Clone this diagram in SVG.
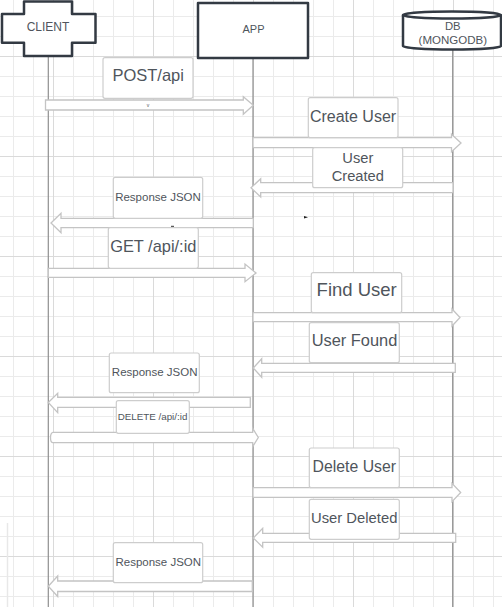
<svg xmlns="http://www.w3.org/2000/svg" width="502" height="607" viewBox="0 0 502 607">
<style>
.minor{stroke:#ebebeb;stroke-width:1}
.major{stroke:#dadada;stroke-width:1}
.life{stroke:#8f8f8f;stroke-width:1.2;fill:none}
.actor{fill:#ffffff;stroke:#333a43;stroke-width:2.5;stroke-linejoin:round}
.lbl{fill:#ffffff;stroke:#cdcdcd;stroke-width:1.2}
.arr{fill:#ffffff;stroke:#c4c4c4;stroke-width:1.3;stroke-linejoin:miter}
text{font-family:"Liberation Sans",Arial,sans-serif;fill:#4f555c;text-anchor:middle}
</style>
<rect x="0" y="0" width="502" height="607" fill="#ffffff"/>
<g id="grid">
<g class="minor">
<path d="M13.5 0V607M33.5 0V607M73.5 0V607M93.5 0V607M113.5 0V607M133.5 0V607M173.5 0V607M193.5 0V607M213.5 0V607M233.5 0V607M273.5 0V607M293.5 0V607M313.5 0V607M333.5 0V607M373.5 0V607M393.5 0V607M413.5 0V607M433.5 0V607M473.5 0V607M493.5 0V607"/>
<path d="M0 16.5H502M0 36.5H502M0 76.5H502M0 96.5H502M0 116.5H502M0 136.5H502M0 176.5H502M0 196.5H502M0 216.5H502M0 236.5H502M0 276.5H502M0 296.5H502M0 316.5H502M0 336.5H502M0 376.5H502M0 396.5H502M0 416.5H502M0 436.5H502M0 476.5H502M0 496.5H502M0 516.5H502M0 536.5H502M0 576.5H502M0 596.5H502"/>
</g>
<g class="major">
<path d="M53.5 0V607M153.5 0V607M253.5 0V607M353.5 0V607M453.5 0V607"/>
<path d="M0 56.5H502M0 156.5H502M0 256.5H502M0 356.5H502M0 456.5H502M0 556.5H502"/>
</g>
<path d="M7.5 523V607" stroke="#e8e8e8" stroke-width="1.5"/>
</g>
<g id="lifelines">
<path class="life" d="M48.3 56V607"/>
<path class="life" d="M253 58V607"/>
<path class="life" d="M452.7 50V607"/>
</g>
<g id="client">
<path class="actor" d="M24 1.5H72V14H95.5V42.7H72V56H24V42.7H2V14H24Z"/>
<text x="48" y="31" font-size="12">CLIENT</text>
</g>
<g id="app">
<rect class="actor" x="198" y="3" width="110" height="55"/>
<text x="253.5" y="33" font-size="11">APP</text>
</g>
<g id="db">
<path class="actor" d="M403 15A49 3.5 0 0 1 501 15V46A49 3.5 0 0 1 403 46Z"/>
<path class="actor" d="M403 15A49 3.5 0 0 0 501 15" fill="none"/>
<text x="452.8" y="30" font-size="11.3">DB</text>
<text x="452.8" y="43.5" font-size="11.5">(MONGODB)</text>
</g>
<g id="connectors">
<polygon class="arr" points="45.5,100 243.3,100 243.3,96.7 253.3,105.3 243.3,114.3 243.3,110 45.5,110"/>
<polygon class="arr" points="253,137.7 451.5,137.7 451.5,134.3 461,143 451.5,151.7 451.5,147.7 253,147.7"/>
<polygon class="arr" points="453,182.6 260.7,182.6 260.7,178.7 251,187.8 260.7,197 260.7,192.6 453,192.6"/>
<polygon class="arr" points="253.3,218.3 61,218.3 61,213.3 51,223 61,232.7 61,227.7 253.3,227.7"/>
<polygon class="arr" points="48.3,268.3 245,268.3 245,264 256,273 245,281.7 245,277.3 48.3,277.3"/>
<polygon class="arr" points="253,312.7 452,312.7 452,309 460,317.5 452,326 452,321.7 253,321.7"/>
<polygon class="arr" points="455.3,363.3 261.7,363.3 261.7,358.7 253.3,368 261.7,377.3 261.7,372.3 455.3,372.3"/>
<polygon class="arr" points="250.3,397.3 57.7,397.3 57.7,393.3 48.3,402.5 57.7,412.7 57.7,407.3 250.3,407.3"/>
<path class="arr" d="M53 432.3H252.7V428.3L258.3 437.5L252.7 446.7V442.7H53A2.5 5.2 0 0 1 53 432.3Z"/>
<polygon class="arr" points="253,487.7 452,487.7 452,483.3 460.7,492.5 452,501.7 452,497.3 253,497.3"/>
<polygon class="arr" points="455.7,533.3 262.7,533.3 262.7,528.3 253.3,538 262.7,547.3 262.7,542.3 455.7,542.3"/>
<polygon class="arr" points="252.3,581 57.7,581 57.7,576 48.3,586.3 57.7,596.5 57.7,591.5 252.3,591.5"/>
<text x="148" y="106.5" font-size="5">v</text>
<path d="M304 216L308 217.3L304 218.6Z" fill="#222"/>
<path d="M171 226.3H174" stroke="#333" stroke-width="1"/>
</g>
<g id="lbl-post">
<rect class="lbl" x="103" y="57.7" width="90" height="40.6" rx="2"/>
<text x="148.2" y="81" font-size="16.5">POST/api</text>
</g>
<g id="lbl-create">
<rect class="lbl" x="308.3" y="97.7" width="89.7" height="40" rx="2"/>
<text x="353" y="122" font-size="16">Create User</text>
</g>
<g id="lbl-created">
<rect class="lbl" x="312.7" y="147.7" width="90" height="40" rx="2"/>
<text x="357.8" y="163.3" font-size="14.7">User</text>
<text x="357.8" y="181" font-size="14.7">Created</text>
</g>
<g id="lbl-resp1">
<rect class="lbl" x="113.3" y="177.3" width="89.4" height="41" rx="2"/>
<text x="158" y="200.7" font-size="11.5">Response JSON</text>
</g>
<g id="lbl-get">
<rect class="lbl" x="108.3" y="227.7" width="90" height="40.6" rx="2"/>
<text x="153.3" y="251.7" font-size="16.4">GET /api/:id</text>
</g>
<g id="lbl-find">
<rect class="lbl" x="311.3" y="272.7" width="90.4" height="40" rx="2"/>
<text x="356.7" y="296" font-size="18.5">Find User</text>
</g>
<g id="lbl-found">
<rect class="lbl" x="309.3" y="322.7" width="90" height="40" rx="2"/>
<text x="354.5" y="345.7" font-size="16.4">User Found</text>
</g>
<g id="lbl-resp2">
<rect class="lbl" x="109.3" y="353" width="90" height="39.7" rx="2"/>
<text x="154.7" y="375.7" font-size="11.5">Response JSON</text>
</g>
<g id="lbl-delete">
<rect class="lbl" x="116.3" y="400.7" width="73" height="32.6" rx="2"/>
<text x="152.5" y="419.7" font-size="9.8">DELETE /api/:id</text>
</g>
<g id="lbl-deleteuser">
<rect class="lbl" x="309.3" y="448" width="90" height="39.7" rx="2"/>
<text x="354.3" y="472.3" font-size="15.8">Delete User</text>
</g>
<g id="lbl-deleted">
<rect class="lbl" x="309.3" y="499.3" width="90" height="40" rx="2"/>
<text x="354.2" y="522.7" font-size="14.8">User Deleted</text>
</g>
<g id="lbl-resp3">
<rect class="lbl" x="113.3" y="542.7" width="89.4" height="40" rx="2"/>
<text x="158.3" y="565.7" font-size="11.5">Response JSON</text>
</g>
</svg>
